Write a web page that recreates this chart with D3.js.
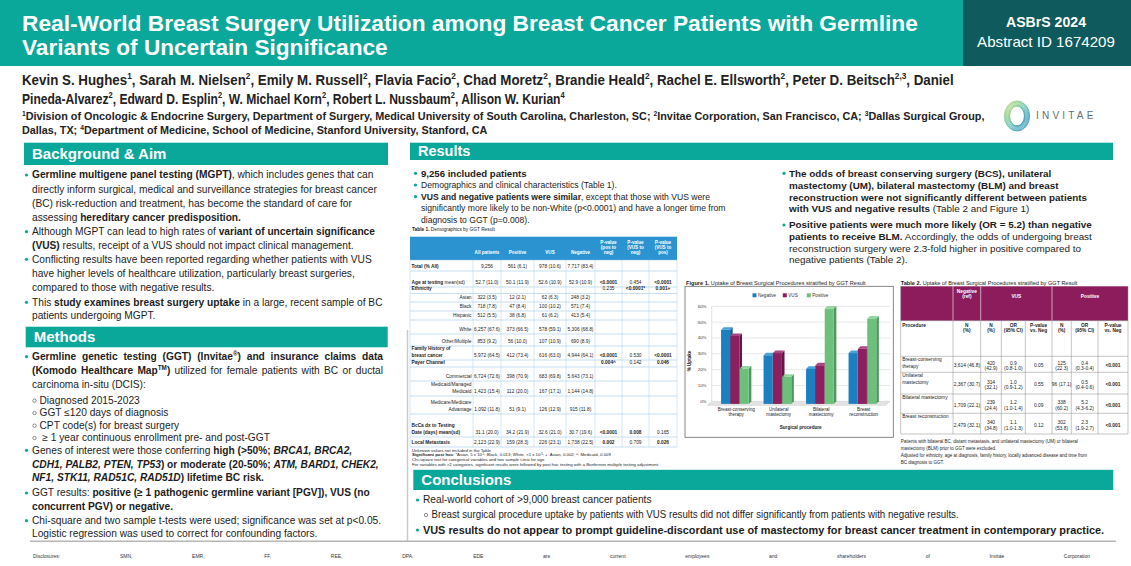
<!DOCTYPE html>
<html><head><meta charset="utf-8">
<script src="https://cdn.jsdelivr.net/npm/d3@7"></script>
<style>
html,body{margin:0;padding:0;background:#fff;}
svg{display:block;font-family:"Liberation Sans",Arial,Helvetica,sans-serif;}
</style></head><body>
<script>
// ---------------- DATA ----------------
const procedures = ["Breast-conserving therapy","Unilateral mastectomy","Bilateral mastectomy","Breast reconstruction"];
const procedureLabelLines = [["Breast-conserving","therapy"],["Unilateral","mastectomy"],["Bilateral","mastectomy"],["Breast","reconstruction"]];
const resultGroups = ["Negative","VUS","Positive"];
const negativeUptake = [46.8,30.7,22.1,32.1];
const vusUptake = [42.9,32.1,24.4,34.8];
const positiveUptake = [22.3,17.1,60.2,53.8];
const uptakeTicks = [0,10,20,30,40,50,60];
const tickLabels = ["0%","10%","20%","30%","40%","50%","60%"];

const t1Header = [["All patients"],["Positive"],["VUS"],["Negative"],["P-value","(pos to","neg)"],["P-value","(VUS to","neg)"],["P-value","(VUS to","pos)"]];
const t1Labels = [
  [[{t:"Total (% All)",b:1}]],
  [[{t:"Age at testing",b:1},{t:" mean(sd)"}]],
  [[{t:"Ethnicity",b:1}]],
  [["Asian"]],[["Black"]],[["Hispanic"]],[["White"]],[["Other/Multiple"]],
  [[{t:"Family History of",b:1}],[{t:"breast cancer",b:1}]],
  [[{t:"Payer Channel",b:1}]],
  [["Commercial"]],
  [["Medicaid/Managed"],["Medicaid"]],
  [["Medicare/Medicare"],["Advantage"]],
  [[{t:"BcCa dx to Testing",b:1}],[{t:"Date (days) mean(sd)",b:1}]],
  [[{t:"Local Metastasis",b:1}]]
];
const t1Indented = [false,false,false,true,true,true,true,true,false,false,true,true,true,false,false];
const t1Values = [
  ["9,256","561 (6.1)","978 (10.6)","7,717 (83.4)","","",""],
  ["52.7 (11.0)","50.1 (11.9)","52.6 (10.9)","52.9 (10.9)","<0.0001","0.454","<0.0001"],
  ["","","","","0.235","<0.0001*","0.001+"],
  ["322 (3.5)","12 (2.1)","62 (6.3)","248 (3.2)","","",""],
  ["718 (7.8)","47 (8.4)","100 (10.2)","571 (7.4)","","",""],
  ["512 (5.5)","38 (6.8)","61 (6.2)","413 (5.4)","","",""],
  ["6,257 (67.6)","373 (66.5)","578 (59.1)","5,306 (68.8)","","",""],
  ["853 (9.2)","56 (10.0)","107 (10.9)","690 (8.9)","","",""],
  ["5,972 (64.5)","412 (73.4)","616 (63.0)","4,944 (64.1)","<0.0001","0.530","<0.0001"],
  ["","","","","0.004^","0.142","0.046"],
  ["6,724 (72.6)","398 (70.9)","683 (69.8)","5,643 (73.1)","","",""],
  ["1,423 (15.4)","112 (20.0)","167 (17.1)","1,144 (14.8)","","",""],
  ["1,092 (11.8)","51 (9.1)","126 (12.9)","915 (11.8)","","",""],
  ["31.1 (20.0)","34.2 (21.9)","32.6 (21.0)","30.7 (19.6)","<0.0001","0.008","0.165"],
  ["2,123 (22.9)","159 (28.3)","226 (23.1)","1,738 (22.5)","0.002","0.709","0.026"]
];
const t1BoldP = ["<0.0001","<0.0001*","0.001+","0.004^","0.046","0.008","0.002","0.026"];

const t2Procedures = [["Breast-conserving","therapy"],["Unilateral","mastectomy"],["Bilateral mastectomy"],["Breast reconstruction"]];
const t2NegN = ["3,614 (46.8)","2,367 (30.7)","1,709 (22.1)","2,479 (32.1)"];
const t2VusN = [["420","(42.9)"],["314","(32.1)"],["239","(24.4)"],["340","(34.8)"]];
const t2VusOR = [["0.9","(0.8-1.0)"],["1.0","(0.9-1.2)"],["1.2","(1.0-1.4)"],["1.1","(1.0-1.3)"]];
const t2VusP = ["0.05","0.55","0.09","0.12"];
const t2PosN = [["125","(22.3)"],["96 (17.1)"],["338","(60.2)"],["302","(53.8)"]];
const t2PosOR = [["0.4","(0.3-0.4)"],["0.5","(0.4-0.6)"],["5.2","(4.3-6.2)"],["2.3","(1.9-2.7)"]];
const t2PosP = ["<0.001","<0.001","<0.001","<0.001"];

// ---------------- SETUP ----------------
const TEAL="#0aa89b", DARK="#0e5a5c", TXT="#1c1c1c";
const W=1131,H=566;
const svg=d3.select("body").append("svg").attr("width",W).attr("height",H);
svg.append("rect").attr("width",W).attr("height",H).attr("fill","#fff");

function rich(g,x,yc,segs,size,o={}){
  const t=g.append("text").attr("x",x).attr("y",yc+size*0.34).attr("font-size",size).attr("fill",o.fill||TXT);
  if(o.anchor) t.attr("text-anchor",o.anchor);
  if(o.weight) t.attr("font-weight",o.weight);
  let up=false;
  (Array.isArray(segs)?segs:[segs]).forEach(s=>{
    if(typeof s==="string") s={t:s};
    const ts=t.append("tspan").text(s.t);
    if(s.b) ts.attr("font-weight","bold");
    if(s.n) ts.attr("font-weight","normal");
    if(s.i) ts.attr("font-style","italic");
    if(s.sup){ts.attr("font-size",size*0.62).attr("dy",-size*0.38);up=true;}
    else if(up){ts.attr("dy",size*0.38);up=false;}
  });
  const node=t.node();
  if(o.justify){const w=node.getComputedTextLength();const n=(node.textContent.match(/ /g)||[]).length;if(n)t.attr("word-spacing",(o.justify-w)/n);}
  if(o.fit){const w=node.getComputedTextLength();const sx=o.fit/w;const yy=+t.attr("y");t.attr("x",0).attr("y",0).attr("transform",`translate(${x},${yy}) scale(${sx},1)`);}
  return t;
}
function dot(x,y,r=1.6){svg.append("circle").attr("cx",x).attr("cy",y).attr("r",r).attr("fill",TEAL);}
function ring(x,y,r=1.7){svg.append("circle").attr("cx",x).attr("cy",y).attr("r",r).attr("fill","none").attr("stroke","#444").attr("stroke-width",0.6);}
function band(x,y,w,h,label,size){
  svg.append("rect").attr("x",x).attr("y",y).attr("width",w).attr("height",h).attr("fill",TEAL);
  rich(svg,x+8,y+h/2,[{t:label,b:1}],size,{fill:"#fff"});
}

// ---------------- HEADER ----------------
svg.append("rect").attr("x",0).attr("y",0).attr("width",963).attr("height",66).attr("fill",TEAL);
svg.append("rect").attr("x",963).attr("y",0).attr("width",168).attr("height",66).attr("fill",DARK);
rich(svg,22,24,[{t:"Real-World Breast Surgery Utilization among Breast Cancer Patients with Germline",b:1}],22,{fill:"#fff",fit:896});
rich(svg,22,48,[{t:"Variants of Uncertain Significance",b:1}],22,{fill:"#fff",fit:366});
rich(svg,1046,22,[{t:"ASBrS 2024",b:1}],14,{fill:"#fff",anchor:"middle",fit:80});
rich(svg,1046,42,["Abstract ID 1674209"],14,{fill:"#fff",anchor:"middle",fit:138});

const sup=t=>({t,sup:1});
rich(svg,22,80,["Kevin S. Hughes",sup("1"),", Sarah M. Nielsen",sup("2"),", Emily M. Russell",sup("2"),", Flavia Facio",sup("2"),", Chad Moretz",sup("2"),", Brandie Heald",sup("2"),", Rachel E. Ellsworth",sup("2"),", Peter D. Beitsch",sup("2,3"),", Daniel"],14,{weight:"bold",fill:"#222",fit:933});
rich(svg,22,99,["Pineda-Alvarez",sup("2"),", Edward D. Esplin",sup("2"),", W. Michael Korn",sup("2"),", Robert L. Nussbaum",sup("2"),", Allison W. Kurian",sup("4")],14,{weight:"bold",fill:"#222",fit:543});
rich(svg,22,116,[sup("1"),"Division of Oncologic & Endocrine Surgery, Department of Surgery, Medical University of South Carolina, Charleston, SC; ",sup("2"),"Invitae Corporation, San Francisco, CA; ",sup("3"),"Dallas Surgical Group,"],11,{weight:"bold",fill:"#222",fit:963});
rich(svg,22,130,["Dallas, TX; ",sup("4"),"Department of Medicine, School of Medicine, Stanford University, Stanford, CA"],11,{weight:"bold",fill:"#222",fit:466});

// logo
const defs=svg.append("defs");
const lg=defs.append("linearGradient").attr("id","lg").attr("x1","0").attr("y1","0").attr("x2","1").attr("y2","1");
lg.append("stop").attr("offset","0").attr("stop-color","#c2dc6a");
lg.append("stop").attr("offset","0.5").attr("stop-color","#59bfa8");
lg.append("stop").attr("offset","1").attr("stop-color","#2d88c4");
for(let i=0;i<14;i++){const a=i/14*Math.PI*2;
  svg.append("ellipse").attr("cx",1017+2.6*Math.cos(a)).attr("cy",116+2.6*Math.sin(a)).attr("rx",10).attr("ry",12.5)
   .attr("fill","none").attr("stroke","url(#lg)").attr("stroke-width",0.55);}
rich(svg,1036,116,["INVITAE"],10,{fill:"#5f6e77"}).attr("letter-spacing",3.2);

// ---------------- LEFT COLUMN ----------------
band(24,142.7,364,22.3,"Background & Aim",15);
const LX=32, BX=26.5, FS=10.2;
const bg=[
 [175,true,[{t:"Germline multigene panel testing (MGPT)",b:1},", which includes genes that can"]],
 [189.3,false,["directly inform surgical, medical and surveillance strategies for breast cancer"]],
 [203.3,false,["(BC) risk-reduction and treatment, has become the standard of care for"]],
 [217.7,false,["assessing ",{t:"hereditary cancer predisposition.",b:1}]],
 [231.7,true,["Although MGPT can lead to high rates of ",{t:"variant of uncertain significance",b:1}]],
 [246,false,[{t:"(VUS)",b:1}," results, receipt of a VUS should not impact clinical management."]],
 [259.3,true,["Conflicting results have been reported regarding whether patients with VUS"]],
 [273.3,false,["have higher levels of healthcare utilization, particularly breast surgeries,"]],
 [287.3,false,["compared to those with negative results."]],
 [302.3,true,["This ",{t:"study examines breast surgery uptake",b:1}," in a large, recent sample of BC"]],
 [315.7,false,["patients undergoing MGPT."]]
];
bg.forEach(([y,b,s])=>{if(b)dot(BX,y);rich(svg,LX,y,s,FS);});

band(25.7,326.7,362,20.6,"Methods",15);
const me=[
 [356.7,1,[{t:"Germline genetic testing (GGT) (Invitae",b:1},{t:"®",b:1,sup:1},{t:") and insurance claims data",b:1}],351],
 [370.7,0,[{t:"(Komodo Healthcare Map",b:1},{t:"TM",b:1,sup:1},{t:")",b:1}," utilized for female patients with BC or ductal"],351],
 [385,0,["carcinoma in-situ (DCIS):"]],
 [400.7,2,["Diagnosed 2015-2023"]],
 [413,2,["GGT \u2264120 days of diagnosis"]],
 [425.7,2,["CPT code(s) for breast surgery"]],
 [438,2,["\u00a0\u2265 1 year continuous enrollment pre- and post-GGT"]],
 [450.3,1,["Genes of interest were those conferring ",{t:"high (>50%; ",b:1},{t:"BRCA1, BRCA2,",b:1,i:1}]],
 [464.7,0,[{t:"CDH1, PALB2, PTEN, TP53",b:1,i:1},{t:") or moderate (20-50%; ",b:1},{t:"ATM, BARD1, CHEK2,",b:1,i:1}]],
 [477.7,0,[{t:"NF1, STK11, RAD51C, RAD51D",b:1,i:1},{t:") lifetime BC risk.",b:1}]],
 [493,1,["GGT results: ",{t:"positive (\u2265 1 pathogenic germline variant [PGV]), VUS (no",b:1}]],
 [506.7,0,[{t:"concurrent PGV) or negative.",b:1}]],
 [520.7,1,["Chi-square and two sample t-tests were used; significance was set at p<0.05."]],
 [534,0,["Logistic regression was used to correct for confounding factors."]]
];
me.forEach(([y,k,s,j])=>{
  if(k===1)dot(BX,y);
  if(k===2){ring(34.5,y);rich(svg,39.5,y,s,FS);return;}
  rich(svg,LX,y,s,FS,j?{justify:j}:{});
});
svg.append("line").attr("x1",407.5).attr("x2",407.5).attr("y1",330).attr("y2",541).attr("stroke","#c9c9c9").attr("stroke-width",1.5);
svg.append("line").attr("x1",30).attr("x2",1116).attr("y1",541.3).attr("y2",541.3).attr("stroke","#b5b5b5").attr("stroke-width",1.6);

// ---------------- RESULTS ----------------
band(410,142.7,703,17.3,"Results",14.5);
dot(415.5,173.3);rich(svg,421,173.3,[{t:"9,256 included patients",b:1}],9.6);
dot(415.5,185);rich(svg,421,185,["Demographics and clinical characteristics (Table 1)."],8.6);
dot(415.5,196.7);rich(svg,421,196.7,[{t:"VUS and negative patients were similar",b:1},", except that those with VUS were"],8.6);
rich(svg,421,208.3,["significantly more likely to be non-White (p<0.0001) and have a longer time from"],8.6);
rich(svg,421,220,["diagnosis to GGT (p=0.008)."],8.6);

const RX=789;
const rc=[
 [173.3,1,[{t:"The odds of breast conserving surgery (BCS), unilateral",b:1}]],
 [185.3,0,[{t:"mastectomy (UM), bilateral mastectomy (BLM) and breast",b:1}]],
 [197.3,0,[{t:"reconstruction were not significantly different between patients",b:1}]],
 [209,0,[{t:"with VUS and negative results",b:1}," (Table 2 and Figure 1)"]],
 [225,1,[{t:"Positive patients were much more likely (OR = 5.2) than negative",b:1}]],
 [236.7,0,[{t:"patients to receive BLM.",b:1}," Accordingly, the odds of undergoing breast"]],
 [248.3,0,["reconstruction surgery were 2.3-fold higher in positive compared to"]],
 [260,0,["negative patients (Table 2)."]]
];
rc.forEach(([y,b,s])=>{if(b)dot(784,y);rich(svg,RX,y,s,9.9);});

// ---------------- TABLE 1 ----------------
const t1 = svg.append("g");
const c1=[410,473,501,534,566,595,622,649,677];
const r1=[260,271,287,293.5,302,311,320,334,346,360,367,381,396,414,437,447];
rich(t1,412,229.3,[{t:"Table 1.",b:1}," Demographics by GGT Result"],4.8);
t1.append("rect").attr("x",c1[0]).attr("y",236.7).attr("width",c1[8]-c1[0]).attr("height",260-236.7).attr("fill","#2b93cf");
t1Header.forEach((lines,i)=>{
  const cx=(c1[i+1]+c1[i+2])/2;
  lines.forEach((ln,k)=>rich(t1,cx,252.7-(lines.length-1-k)*5.2,[{t:ln,b:1}],4.6,{fill:"#fff",anchor:"middle"}));
});
r1.forEach(y=>t1.append("line").attr("x1",c1[0]).attr("x2",c1[8]).attr("y1",y).attr("y2",y).attr("stroke","#8fbfe0").attr("stroke-width",0.5));
c1.forEach(x=>t1.append("line").attr("x1",x).attr("x2",x).attr("y1",260).attr("y2",447).attr("stroke","#a9cde6").attr("stroke-width",0.5));
t1Labels.forEach((lines,i)=>{
  const yb=r1[i+1]-4.8;
  lines.forEach((ln,k)=>{
    const yy=yb-(lines.length-1-k)*7.2;
    if(t1Indented[i]) rich(t1,c1[1]-1.5,yy,ln,4.8,{anchor:"end"});
    else rich(t1,c1[0]+1.5,yy,ln,4.8);
  });
  t1Values[i].forEach((v,j)=>{
    if(!v)return;
    rich(t1,(c1[j+1]+c1[j+2])/2,yb,[{t:v,b:t1BoldP.includes(v)?1:0}],4.8,{anchor:"middle"});
  });
});
const fn1=[
 [450.3,["Unknown values not included in the Table"]],
 [455,[{t:"Significant post hoc",b:1},": *Asian, 5 x 10",sup("-5"),"; Black, 0.013; White, <1 x 10",sup("-5"),"; +: Asian, 0.002; ^: Medicaid, 0.009"]],
 [459.5,["Chi-square test for categorical variables and two sample t-test for age"]],
 [464.2,["For variables with >2 categories, significant results were followed by post hoc testing with a Bonferroni multiple testing adjustment"]]
];
fn1.forEach(([y,s])=>rich(svg,412,y,s,4.3));

// ---------------- FIGURE 1 ----------------
const fig=svg.append("g");
rich(fig,686,283,[{t:"Figure 1.",b:1}," Uptake of Breast Surgical Procedures stratified by GGT Result"],5.6);
fig.append("rect").attr("x",685).attr("y",286.3).attr("width",208.3).attr("height",151).attr("fill","#fff").attr("stroke","#6a6a6a").attr("stroke-width",0.8);
const yS=d3.scaleLinear().domain([0,60]).range([401.3,306.3]);
const xS=d3.scaleBand().domain(procedures).range([716,886]).padding(0);
const xG=d3.scaleBand().domain(resultGroups).range([-14,14]).padding(0);
const colors={Negative:["#1c80c0","#13608f","#4aa2d8"],VUS:["#8c1f5f","#661546","#aa4683"],Positive:["#6cc07c","#4c9a5b","#93d6a0"]};
const WL=711.7, WR=890, y0=yS(0);
fig.append("polygon").attr("points",`${WL},${y0} ${WR},${y0} ${WR-4.5},${y0+4} ${WL-4.5},${y0+4}`).attr("fill","#e4e4e4").attr("stroke","#c9c9c9").attr("stroke-width",0.5);
fig.append("line").attr("x1",WL).attr("x2",WL).attr("y1",yS(60)).attr("y2",y0).attr("stroke","#cfcfcf").attr("stroke-width",0.6);
uptakeTicks.forEach((t,i)=>{
  if(t>0) fig.append("line").attr("x1",WL).attr("x2",WR).attr("y1",yS(t)).attr("y2",yS(t)).attr("stroke","#d6d6d6").attr("stroke-width",0.6);
  rich(fig,706.5,yS(t),[tickLabels[i]],4.4,{anchor:"end",fill:"#333"});
});
const series={Negative:negativeUptake,VUS:vusUptake,Positive:positiveUptake};
const D=2.6;
procedures.forEach((p,pi)=>{
  const cx=xS(p)+xS.bandwidth()/2;
  resultGroups.forEach(g=>{
    const v=series[g][pi];
    const fx=cx+xG(g)-2.2, fw=xG.bandwidth()-0.3, fy=yS(v)+D, fb=y0+D;
    const [cf,cs,ct]=colors[g];
    fig.append("polygon").attr("points",`${fx+fw},${fy} ${fx+fw+D},${fy-D} ${fx+fw+D},${fb-D} ${fx+fw},${fb}`).attr("fill",cs);
    fig.append("polygon").attr("points",`${fx},${fy} ${fx+D},${fy-D} ${fx+fw+D},${fy-D} ${fx+fw},${fy}`).attr("fill",ct);
    fig.append("rect").attr("x",fx).attr("y",fy).attr("width",fw).attr("height",fb-fy).attr("fill",cf);
  });
  procedureLabelLines[pi].forEach((ln,k)=>rich(fig,cx-1,409.7+k*5,[ln],4.6,{anchor:"middle",fill:"#222"}));
});
rich(fig,800.7,427,[{t:"Surgical procedure",b:1}],4.6,{anchor:"middle",fill:"#222"});
const yt=rich(fig,0,0,[{t:"% Uptake",b:1}],4.6,{anchor:"middle",fill:"#222"});
yt.attr("x",0).attr("y",0).attr("transform","translate(691,361) rotate(-90)");
const legX={Negative:752.5,VUS:782.8,Positive:806.8};
resultGroups.forEach(g=>{
  fig.append("rect").attr("x",legX[g]).attr("y",293.3).attr("width",4).attr("height",4).attr("fill",colors[g][0]);
  rich(fig,legX[g]+5.5,295.3,[g],4.6,{fill:"#333"});
});

// ---------------- TABLE 2 ----------------
const t2=svg.append("g");
const c2=[900.7,953,980.7,1001.3,1025.3,1052,1071.3,1098,1128];
const r2=[320.7,356.3,372.3,394,413.3,434];
rich(t2,900.7,283,[{t:"Table 2.",b:1}," Uptake of Breast Surgical Procedures stratified by GGT Result"],5.6);
t2.append("rect").attr("x",c2[0]).attr("y",286.3).attr("width",c2[8]-c2[0]).attr("height",320.7-286.3).attr("fill","#8c1c5c");
[c2[1],c2[2],c2[5]].forEach(x=>t2.append("line").attr("x1",x).attr("x2",x).attr("y1",286.3).attr("y2",320.7).attr("stroke","#fff").attr("stroke-width",0.6));
rich(t2,(c2[1]+c2[2])/2,291.3,[{t:"Negative",b:1}],4.8,{anchor:"middle",fill:"#fff"});
rich(t2,(c2[1]+c2[2])/2,296.3,[{t:"(ref)",b:1}],4.8,{anchor:"middle",fill:"#fff"});
rich(t2,(c2[2]+c2[5])/2,296.3,[{t:"VUS",b:1}],4.8,{anchor:"middle",fill:"#fff"});
rich(t2,(c2[5]+c2[8])/2,296.3,[{t:"Positive",b:1}],4.8,{anchor:"middle",fill:"#fff"});
r2.forEach(y=>t2.append("line").attr("x1",c2[0]).attr("x2",c2[8]).attr("y1",y).attr("y2",y).attr("stroke","#8a8a8a").attr("stroke-width",0.5));
c2.forEach(x=>t2.append("line").attr("x1",x).attr("x2",x).attr("y1",320.7).attr("y2",434).attr("stroke","#8a8a8a").attr("stroke-width",0.5));
[c2[0],c2[8]].forEach(x=>t2.append("line").attr("x1",x).attr("x2",x).attr("y1",286.3).attr("y2",320.7).attr("stroke","#8a8a8a").attr("stroke-width",0.5));
const t2Sub=[["Procedure"],["N","(%)"],["N","(%)"],["OR","(95% CI)"],["P-value","vs. Neg"],["N","(%)"],["OR","(95% CI)"],["P-value","vs. Neg"]];
t2Sub.forEach((lines,i)=>lines.forEach((ln,k)=>{
  if(i===0) rich(t2,c2[0]+1.5,325.7,[{t:ln,b:1}],4.8);
  else rich(t2,(c2[i]+c2[i+1])/2,325.7+k*5,[{t:ln,b:1}],4.8,{anchor:"middle"});
}));
t2Procedures.forEach((lines,r)=>{
  const top=r2[r+1], bot=r2[r+2], mid=(top+bot)/2+1.5;
  lines.forEach((ln,k)=>rich(t2,c2[0]+1.5,top+3.5+k*6.4,[ln],4.9));
  const cells=[[t2NegN[r]],t2VusN[r],t2VusOR[r],[t2VusP[r]],t2PosN[r],t2PosOR[r],[t2PosP[r]]];
  cells.forEach((cl,j)=>{
    const cx=(c2[j+1]+c2[j+2])/2;
    cl.forEach((ln,k)=>rich(t2,cx,mid-(cl.length-1)*2.8+k*5.6,[{t:ln,b:j===6?1:0}],4.9,{anchor:"middle"}));
  });
});
[[441.7,"Patients with bilateral BC, distant metastasis, and unilateral mastectomy (UM) or bilateral"],
 [448.3,"mastectomy (BLM) prior to GGT were excluded."],
 [455.5,"Adjusted for ethnicity, age at diagnosis, family history, locally advanced disease and time from"],
 [462,"BC diagnosis to GGT."]].forEach(([y,s])=>rich(svg,900.7,y,[s],4.5));

// ---------------- CONCLUSIONS ----------------
band(413.3,469.8,700,20.2,"Conclusions",15);
dot(417.5,500);rich(svg,423,500,["Real-world cohort of >9,000 breast cancer patients"],10.2);
ring(426,515);rich(svg,431.5,515,["Breast surgical procedure uptake by patients with VUS results did not differ significantly from patients with negative results."],10.2,{fit:527});
dot(417.5,530);rich(svg,423,530,[{t:"VUS results do not appear to prompt guideline-discordant use of mastectomy for breast cancer treatment in contemporary practice.",b:1}],10.8,{fit:682});

// ---------------- DISCLOSURES ----------------
rich(svg,33,556,["Disclosures: SMN, EMR, FF, REE, DPA, EDE are current employees and shareholders of Invitae Corporation"],5,{fill:"#333",justify:1057});
</script></body></html>
